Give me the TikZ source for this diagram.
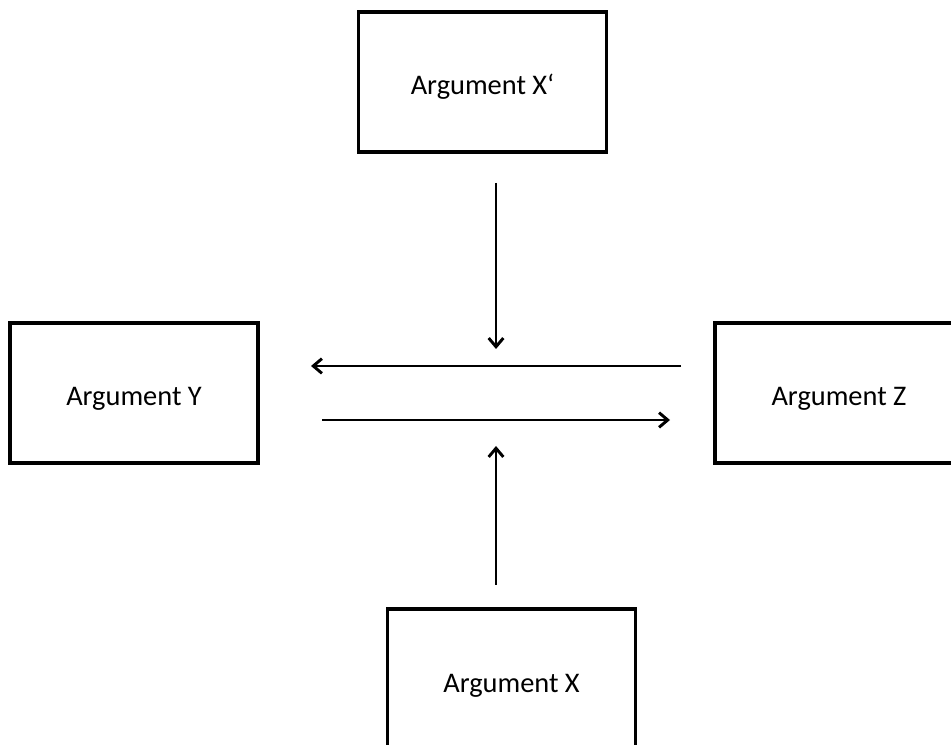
\documentclass[tikz,border=0pt]{standalone}
\usepackage{fontspec}
\setmainfont{Carlito}
\usetikzlibrary{arrows.meta}
\begin{document}
\begin{tikzpicture}[x=0.75pt,y=-0.75pt,
  argbox/.style={draw=black, line width=2.6pt, fill=white, inner sep=0pt,
    minimum width=186pt, minimum height=105pt,
    text height=19.5pt, text depth=0pt,
    font=\fontsize{21.3}{25}\selectfont},
  link/.style={line width=2.2pt, -{Straight Barb[length=6.5pt,width=11pt,line width=2.2pt]}}]
  \useasboundingbox (0,0) rectangle (951,745);
  \fill[white] (0,0) rectangle (951,745);

  % the four argument boxes
  \node[argbox] (xp) at (482.5,82)  {Argument X‘};
  \node[argbox] (y)  at (134,393)   {Argument Y};
  \node[argbox] (z)  at (839,393)   {Argument Z};
  \node[argbox] (x)  at (511.5,679) {Argument X};

  % arrow ends between the boxes
  \coordinate (dTop) at (496,183);
  \coordinate (dTip) at (496,349);
  \coordinate (uBot) at (496,585);
  \coordinate (uTip) at (496,446);
  \coordinate (lStart) at (681,366);
  \coordinate (lTip)   at (311,366);
  \coordinate (rStart) at (322,420);
  \coordinate (rTip)   at (670,420);

  \draw[link] (dTop) -- (dTip);
  \draw[link] (uBot) -- (uTip);
  \draw[link] (lStart) -- (lTip);
  \draw[link] (rStart) -- (rTip);
\end{tikzpicture}
\end{document}
